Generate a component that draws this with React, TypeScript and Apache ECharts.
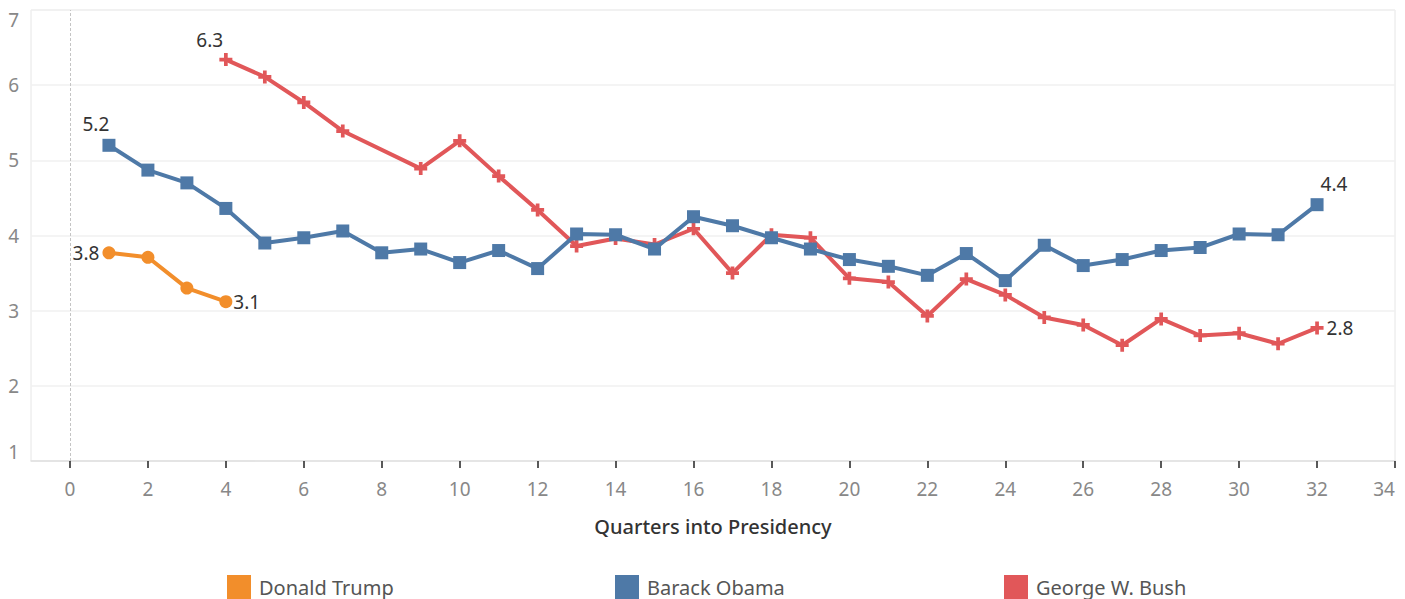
import React, { useEffect, useRef } from "react";
import * as echarts from "echarts";

const seriesNames = ["Donald Trump", "Barack Obama", "George W. Bush"];
const seriesColors = ["#f28e2b", "#4e79a7", "#e15759"];

const trumpQuarters = [1, 2, 3, 4];
const trumpValues = [3.77, 3.71, 3.3, 3.12];

const obamaQuarters = [1, 2, 3, 4, 5, 6, 7, 8, 9, 10, 11, 12, 13, 14, 15, 16, 17, 18, 19, 20, 21, 22, 23, 24, 25, 26, 27, 28, 29, 30, 31, 32];
const obamaValues = [5.2, 4.87, 4.7, 4.36, 3.9, 3.97, 4.06, 3.77, 3.82, 3.64, 3.8, 3.56, 4.02, 4.01, 3.82, 4.25, 4.13, 3.97, 3.82, 3.68, 3.59, 3.47, 3.76, 3.4, 3.87, 3.6, 3.68, 3.8, 3.84, 4.02, 4.01, 4.41];

const bushQuarters = [4, 5, 6, 7, 9, 10, 11, 12, 13, 14, 15, 16, 17, 18, 19, 20, 21, 22, 23, 24, 25, 26, 27, 28, 29, 30, 31, 32];
const bushValues = [6.34, 6.11, 5.77, 5.39, 4.89, 5.26, 4.79, 4.34, 3.86, 3.96, 3.88, 4.09, 3.5, 4.01, 3.97, 3.43, 3.38, 2.93, 3.42, 3.21, 2.91, 2.81, 2.54, 2.89, 2.67, 2.7, 2.56, 2.77];

const xTickValues = [0, 2, 4, 6, 8, 10, 12, 14, 16, 18, 20, 22, 24, 26, 28, 30, 32, 34];

const FONT = "Noto Sans";
const PLUS = "path://M5,0H9V5H14V9H9V14H5V9H0V5H5Z";

function buildData(xs: number[], ys: number[], firstLabel: any, lastLabel: any) {
  return xs.map((x, i) => {
    const item: any = { value: [x, ys[i]] };
    const lbl = i === 0 ? firstLabel : i === xs.length - 1 ? lastLabel : null;
    if (lbl) {
      item.label = {
        show: true,
        formatter: ys[i].toFixed(1),
        fontSize: 19,
        color: "#333",
        fontFamily: FONT,
        ...lbl,
      };
    }
    return item;
  });
}

export default function App() {
  const ref = useRef<HTMLDivElement>(null);
  useEffect(() => {
    document.body.style.margin = "0";
    const chart = echarts.init(ref.current!, null, { renderer: "svg" });
    const option: any = {
      animation: false,
      backgroundColor: "#fff",
      textStyle: { fontFamily: FONT },
      grid: {
        left: 31,
        right: 10,
        top: 10,
        bottom: 138,
        outerBoundsMode: "none",
        containLabel: false,
        show: true,
        borderColor: "#e6e6e6",
        borderWidth: 1,
        backgroundColor: "transparent",
      },
      xAxis: {
        type: "value",
        min: -1,
        max: 34,
        name: "Quarters into Presidency",
        nameLocation: "middle",
        nameGap: 55,
        nameTextStyle: { fontSize: 20, color: "#333", fontFamily: FONT, fontWeight: 500 },
        axisLine: { show: true, lineStyle: { color: "#e0e0e0", width: 1.5 } },
        axisTick: { show: true, customValues: xTickValues, length: 7, lineStyle: { color: "#222", width: 1.5 } },
        axisLabel: {
          customValues: xTickValues,
          fontSize: 19,
          color: "#888",
          margin: 18,
          fontFamily: FONT,
          alignMaxLabel: "right",
        },
        splitLine: { show: false },
      },
      yAxis: {
        type: "value",
        min: 1,
        max: 7,
        interval: 1,
        axisLine: { show: false },
        axisTick: { show: false },
        axisLabel: {
          fontSize: 19,
          color: "#888",
          margin: 12,
          fontFamily: FONT,
          verticalAlignMinLabel: "bottom",
          verticalAlignMaxLabel: "top",
        },
        splitLine: { show: true, lineStyle: { color: "#f0f0f0", width: 1.5 } },
      },
      legend: seriesNames.map((n, i) => ({
        data: [n],
        left: [227, 615, 1004][i],
        top: 575,
        padding: 0,
        icon: "rect",
        itemWidth: 24,
        itemHeight: 24,
        itemGap: 8,
        textStyle: { fontSize: 20, color: "#555", fontFamily: FONT, padding: [0, 0, 0, 3] },
      })),
      series: [
        {
          name: seriesNames[2],
          type: "line",
          color: seriesColors[2],
          symbol: PLUS,
          symbolSize: 13,
          lineStyle: { width: 4 },
          data: buildData(bushQuarters, bushValues, { position: [-23, -23] }, { position: "right", distance: 3 }),
          z: 2,
        },
        {
          name: seriesNames[1],
          type: "line",
          color: seriesColors[1],
          symbol: "rect",
          symbolSize: 13,
          lineStyle: { width: 4 },
          data: buildData(obamaQuarters, obamaValues, { position: [-20, -24] }, { position: [10, -24] }),
          markLine: {
            silent: true,
            symbol: "none",
            label: { show: false },
            lineStyle: { color: "#c4c4c4", type: [3, 2], width: 1 },
            data: [{ xAxis: 0 }],
          },
          z: 3,
        },
        {
          name: seriesNames[0],
          type: "line",
          color: seriesColors[0],
          symbol: "circle",
          symbolSize: 13,
          lineStyle: { width: 4 },
          data: buildData(trumpQuarters, trumpValues, { position: "left", distance: 3 }, { position: "right", distance: 1 }),
          z: 4,
        },
      ],
    };
    chart.setOption(option);
    return () => chart.dispose();
  }, []);
  return <div ref={ref} style={{ width: 1405, height: 599 }} />;
}
